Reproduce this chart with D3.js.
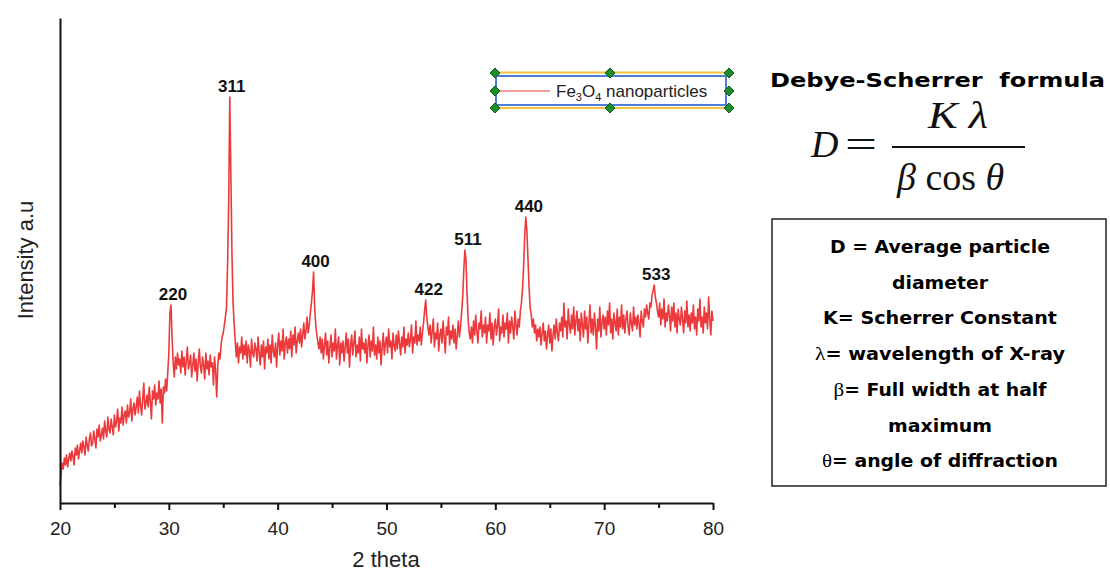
<!DOCTYPE html>
<head>
	<meta charset="UTF-8">
	<script src="https://d3js.org/d3.v7.min.js"></script>
	<title>XRD pattern of Fe3O4 nanoparticles</title>
<style>
	body{
		margin: 0;
		background-color: white;
	}
	svg{
		display: block;
	}
</style>
</head>

<body>
	<svg width=1110 height=575></svg>
</body>

<script>
	// XRD scan: 2 theta from 20 to 80 in steps of 0.1 degree
	var twoThetaStart = 20;
	var twoThetaStep = 0.1;

	// Intensity (a.u.), one row per degree
	var intensity = [
		18, 30, 40, 34, 45, 38, 48, 36, 44, 50,          // 20
		42, 52, 46, 38, 55, 48, 58, 44, 52, 60,          // 21
		50, 62, 56, 48, 66, 58, 52, 64, 70, 57,          // 22
		60, 72, 64, 55, 74, 66, 78, 62, 68, 75,          // 23
		64, 82, 72, 66, 86, 74, 70, 84, 76, 68,          // 24
		88, 76, 82, 94, 72, 85, 80, 96, 78, 88,          // 25
		92, 80, 98, 86, 90, 104, 82, 94, 100, 88,        // 26
		96, 106, 90, 112, 98, 88, 104, 120, 94, 100,     // 27
		108, 96, 116, 102, 84, 112, 104, 118, 98, 110,   // 28
		104, 122, 100, 114, 80, 116, 110, 124, 112, 130, // 29
		150, 190, 198, 165, 140, 126, 146, 134, 150, 138, // 30
		144, 130, 152, 136, 146, 128, 142, 156, 134, 140, // 31
		148, 126, 138, 150, 132, 144, 122, 140, 154, 136, // 32
		130, 146, 138, 124, 150, 134, 142, 128, 148, 136, // 33
		140, 118, 146, 132, 106, 138, 150, 144, 158, 166, // 34
		170, 178, 186, 196, 240, 300, 406, 330, 250, 200, // 35
		180, 162, 146, 160, 140, 156, 150, 166, 144, 158, // 36
		148, 162, 140, 158, 152, 136, 164, 150, 146, 160, // 37
		154, 142, 166, 150, 138, 158, 146, 162, 134, 156, // 38
		150, 164, 144, 158, 140, 168, 152, 146, 160, 136, // 39
		158, 170, 148, 162, 152, 174, 144, 160, 166, 150, // 40
		164, 154, 172, 146, 168, 158, 176, 150, 162, 170, // 41
		160, 174, 156, 168, 180, 164, 172, 186, 170, 178, // 42
		190, 200, 212, 231, 196, 178, 168, 160, 154, 166, // 43
		150, 164, 144, 158, 170, 148, 162, 140, 156, 168, // 44
		146, 160, 152, 174, 144, 158, 166, 138, 160, 150, // 45
		162, 142, 156, 170, 150, 164, 136, 158, 168, 148, // 46
		160, 172, 146, 158, 150, 166, 142, 174, 154, 160, // 47
		150, 164, 140, 158, 168, 146, 162, 152, 176, 148, // 48
		158, 144, 166, 150, 162, 138, 156, 170, 148, 160, // 49
		166, 150, 174, 156, 162, 144, 170, 158, 152, 168, // 50
		154, 172, 160, 148, 166, 156, 176, 150, 164, 158, // 51
		170, 156, 164, 178, 150, 166, 160, 182, 158, 168, // 52
		162, 176, 158, 170, 180, 192, 203, 186, 176, 168, // 53
		178, 160, 172, 184, 156, 170, 164, 180, 152, 168, // 54
		174, 160, 182, 166, 150, 176, 168, 186, 158, 172, // 55
		164, 178, 160, 174, 154, 168, 182, 166, 176, 190, // 56
		206, 232, 253, 244, 210, 184, 170, 164, 176, 160, // 57
		182, 168, 188, 172, 160, 180, 174, 192, 166, 178, // 58
		170, 186, 160, 178, 172, 190, 164, 180, 158, 176, // 59
		184, 168, 178, 194, 162, 176, 170, 188, 166, 180, // 60
		174, 190, 160, 182, 170, 186, 176, 164, 192, 178, // 61
		168, 184, 176, 192, 200, 214, 236, 268, 286, 272, // 62
		244, 216, 196, 188, 176, 184, 170, 178, 162, 174, // 63
		166, 176, 158, 170, 180, 162, 172, 154, 168, 178, // 64
		160, 174, 152, 168, 178, 164, 184, 170, 162, 180, // 65
		172, 186, 166, 200, 176, 182, 164, 194, 178, 170, // 66
		188, 174, 196, 168, 182, 192, 172, 184, 162, 190, // 67
		178, 166, 192, 174, 186, 160, 180, 198, 170, 184, // 68
		168, 190, 176, 154, 184, 172, 196, 166, 180, 188, // 69
		174, 186, 168, 192, 178, 200, 170, 184, 164, 190, // 70
		180, 172, 194, 168, 186, 176, 198, 174, 188, 170, // 71
		184, 192, 176, 168, 190, 180, 172, 196, 178, 186, // 72
		174, 188, 180, 166, 192, 182, 176, 194, 186, 198, // 73
		190, 184, 200, 196, 208, 212, 218, 206, 200, 192, // 74
		186, 200, 178, 194, 184, 204, 176, 190, 182, 198, // 75
		188, 172, 196, 182, 200, 176, 190, 170, 194, 184, // 76
		178, 196, 184, 170, 192, 180, 202, 176, 188, 172, // 77
		190, 180, 198, 174, 186, 168, 194, 182, 204, 176, // 78
		186, 170, 196, 180, 190, 174, 206, 184, 168, 192, // 79
		182                                               // 80
	];

	// Miller indices of the spinel peaks and their 2 theta positions
	var peakLabels = ["220", "311", "400", "422", "511", "440", "533"];
	var peakAngles = [30.2, 35.6, 43.3, 53.7, 57.3, 62.9, 74.6];

	// Axis ticks
	var majorTicks = [20, 30, 40, 50, 60, 70, 80];
	var minorTicks = [25, 35, 45, 55, 65, 75];

	// Text on the right hand side
	var formulaTitle = "Debye-Scherrer  formula";
	var legendText = [
		{sym: "", text: "D = Average particle", len: 220},
		{sym: "", text: "diameter", len: 96},
		{sym: "", text: "K= Scherrer Constant", len: 234},
		{sym: "λ", text: "= wavelength of X-ray", len: 250},
		{sym: "β", text: "= Full width at half", len: 213},
		{sym: "", text: "maximum", len: 104},
		{sym: "θ", text: "= angle of diffraction", len: 236}
	];

	var red = "#ec3a3c";
	var svg = d3.select("svg");

	var points = intensity.map(function(v, i) {
		return {x: twoThetaStart + i * twoThetaStep, y: v};
	});

	// Scales
	var xScale = d3.scaleLinear().domain([20, 80]).range([60, 713]);
	var yScale = d3.scaleLinear().domain([0, 485]).range([503, 18]);

	// Pattern
	var line = d3.line()
		.x(function(d) {return xScale(d.x)})
		.y(function(d) {return yScale(d.y)});

	svg.append("path")
		.datum(points)
		.attr("d", line)
		.attr("fill", "none")
		.attr("stroke", red)
		.attr("stroke-width", 1.6)
		.attr("stroke-linejoin", "round");

	// X axis, major then minor ticks
	var xAxis = svg.append("g")
		.attr("transform", "translate(0,503)")
		.call(d3.axisBottom(xScale).tickValues(majorTicks).tickSize(7).tickSizeOuter(0).tickPadding(12));
	xAxis.select(".domain").attr("stroke", "#111").attr("stroke-width", 2);
	xAxis.selectAll(".tick line").attr("stroke", "#111").attr("stroke-width", 2);
	xAxis.selectAll(".tick text")
		.attr("font-family", "Liberation Sans, Arial, sans-serif")
		.attr("font-size", 19)
		.attr("fill", "#222");

	var xMinor = svg.append("g")
		.attr("transform", "translate(0,503)")
		.call(d3.axisBottom(xScale).tickValues(minorTicks).tickSize(5).tickSizeOuter(0).tickFormat(""));
	xMinor.select(".domain").remove();
	xMinor.selectAll(".tick line").attr("stroke", "#111").attr("stroke-width", 2);

	// Y axis, line only
	var yAxis = svg.append("g")
		.attr("transform", "translate(60,0)")
		.call(d3.axisLeft(yScale).tickValues([]).tickSizeOuter(0));
	yAxis.select(".domain").attr("stroke", "#111").attr("stroke-width", 2);

	// Axis titles
	svg.append("text")
		.text("2 theta")
		.attr("x", 386)
		.attr("y", 567)
		.attr("text-anchor", "middle")
		.attr("font-family", "Liberation Sans, Arial, sans-serif")
		.attr("font-size", 22)
		.attr("fill", "#222");

	svg.append("text")
		.text("Intensity a.u")
		.attr("transform", "translate(33,260) rotate(-90)")
		.attr("text-anchor", "middle")
		.attr("font-family", "Liberation Sans, Arial, sans-serif")
		.attr("font-size", 22)
		.attr("fill", "#222");

	// Peak labels sit just above the highest point of each peak
	svg.append("g")
		.selectAll("text")
		.data(peakAngles).enter()
		.append("text")
		.text(function(d, i) {return peakLabels[i]})
		.attr("x", function(d) {return xScale(d) + 2})
		.attr("y", function(d) {
			var top = d3.max(points.filter(function(p) {return Math.abs(p.x - d) < 0.25}), function(p) {return p.y});
			return yScale(top) - 5;
		})
		.attr("text-anchor", "middle")
		.attr("font-family", "Liberation Sans, Arial, sans-serif")
		.attr("font-weight", "bold")
		.attr("font-size", 17)
		.attr("fill", "#111");

	// Legend (still showing its selection handles)
	var legend = svg.append("g").attr("id", "legend");
	legend.append("line")
		.attr("x1", 493).attr("x2", 731).attr("y1", 72.5).attr("y2", 72.5)
		.attr("stroke", "#f2c23a").attr("stroke-width", 2);
	legend.append("line")
		.attr("x1", 493).attr("x2", 731).attr("y1", 108).attr("y2", 108)
		.attr("stroke", "#f2c23a").attr("stroke-width", 2);
	legend.append("rect")
		.attr("x", 496).attr("y", 76).attr("width", 230).attr("height", 29)
		.attr("fill", "white")
		.attr("stroke", "#4d7fd6").attr("stroke-width", 2);
	legend.append("line")
		.attr("x1", 497).attr("x2", 550).attr("y1", 91).attr("y2", 91)
		.attr("stroke", red).attr("stroke-width", 1.2);
	var legendLabel = legend.append("text")
		.attr("x", 556).attr("y", 97)
		.attr("font-family", "Liberation Sans, Arial, sans-serif")
		.attr("font-size", 17)
		.attr("fill", "#222");
	legendLabel.append("tspan").text("Fe");
	legendLabel.append("tspan").text("3").attr("font-size", 11).attr("dy", 4);
	legendLabel.append("tspan").text("O").attr("dy", -4);
	legendLabel.append("tspan").text("4").attr("font-size", 11).attr("dy", 4);
	legendLabel.append("tspan").text(" nanoparticles").attr("dy", -4);

	var handles = [[495, 73], [610, 73], [729, 73], [495, 91], [729, 91], [495, 108], [610, 108], [729, 108]];
	legend.selectAll(".handle")
		.data(handles).enter()
		.append("path")
		.attr("class", "handle")
		.attr("d", function(d) {return "M" + d[0] + "," + (d[1] - 5) + "L" + (d[0] + 5) + "," + d[1] + "L" + d[0] + "," + (d[1] + 5) + "L" + (d[0] - 5) + "," + d[1] + "Z"})
		.attr("fill", "#1f8c2c")
		.attr("stroke", "#0d5a18")
		.attr("stroke-width", 1);

	// Formula title
	svg.append("text")
		.text(formulaTitle)
		.attr("x", 770)
		.attr("y", 87)
		.attr("textLength", 335)
		.attr("lengthAdjust", "spacingAndGlyphs")
		.style("white-space", "pre")
		.attr("font-family", "DejaVu Sans, sans-serif")
		.attr("font-weight", "bold")
		.attr("font-size", 19)
		.attr("fill", "#000");

	// Formula D = K lambda / (beta cos theta)
	var serif = "Liberation Serif, Times New Roman, serif";
	var formula = svg.append("g").attr("font-family", serif).attr("font-size", 38).attr("fill", "#111");
	formula.append("text").text("D").attr("x", 811).attr("y", 157).attr("font-style", "italic");
	formula.append("text").text("=").attr("x", 845).attr("y", 157).attr("textLength", 32).attr("lengthAdjust", "spacingAndGlyphs");
	formula.append("line")
		.attr("x1", 892).attr("x2", 1025).attr("y1", 147).attr("y2", 147)
		.attr("stroke", "#111").attr("stroke-width", 2);
	formula.append("text").text("K λ").attr("x", 928).attr("y", 128).attr("font-style", "italic")
		.attr("textLength", 60).attr("lengthAdjust", "spacingAndGlyphs");
	var denom = formula.append("text").attr("x", 897).attr("y", 190);
	denom.append("tspan").text("β").attr("font-style", "italic");
	denom.append("tspan").text(" cos ");
	denom.append("tspan").text("θ").attr("font-style", "italic");

	// Definitions box
	svg.append("rect")
		.attr("x", 772).attr("y", 219).attr("width", 334).attr("height", 267)
		.attr("fill", "none")
		.attr("stroke", "#222").attr("stroke-width", 1.5);

	var defs = svg.append("g")
		.selectAll("text")
		.data(legendText).enter()
		.append("text")
		.attr("x", 940)
		.attr("y", function(d, i) {return 253 + i * 35.7})
		.attr("text-anchor", "middle")
		.attr("textLength", function(d) {return d.len})
		.attr("lengthAdjust", "spacingAndGlyphs")
		.attr("font-family", "DejaVu Sans, sans-serif")
		.attr("font-weight", "bold")
		.attr("font-size", 17)
		.attr("fill", "#000");
	defs.append("tspan")
		.text(function(d) {return d.sym})
		.attr("font-family", serif)
		.attr("font-weight", "normal")
		.attr("font-size", 19);
	defs.append("tspan")
		.text(function(d) {return d.text});
</script>
